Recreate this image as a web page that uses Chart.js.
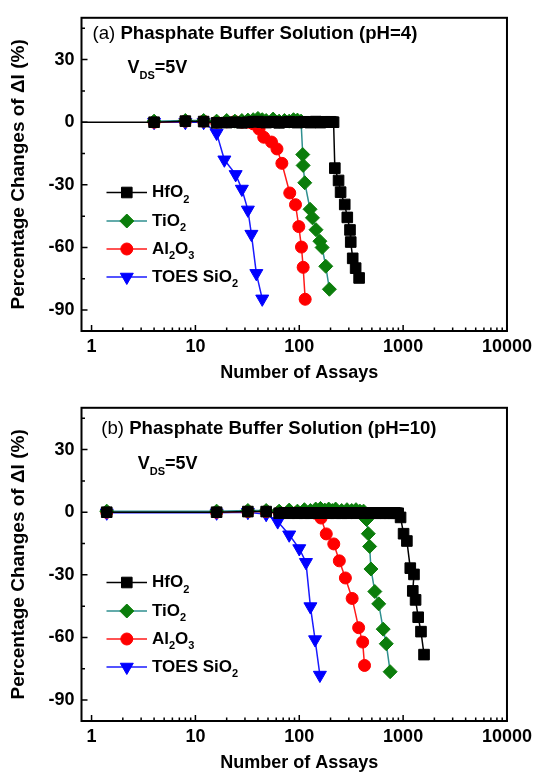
<!DOCTYPE html>
<html>
<head>
<meta charset="utf-8">
<script src="https://cdn.jsdelivr.net/npm/chart.js@4.4.1/dist/chart.umd.min.js"></script>
<style>
  html, body { margin: 0; padding: 0; background: #fff; overflow: hidden; }
  .panel { position: absolute; left: 0; width: 537px; height: 390px; }
</style>
</head>
<body>
<div class="panel" style="top:0"><canvas id="chartA" width="537" height="390"></canvas></div>
<div class="panel" style="top:390px"><canvas id="chartB" width="537" height="390"></canvas></div>
<script>
// ---- data ----
// panel (a), pH=4
const hfA_x = [0.5, 4, 8, 12, 16, 20, 24, 28, 32, 36, 40, 44, 48, 52, 56, 60, 64, 72, 80, 88, 96, 104, 112, 120, 128, 136, 144, 152, 160, 168, 176, 184, 192, 200, 208, 214, 220, 239, 250, 274, 290, 308, 313, 327, 349, 377];
const hfA_y = [0, 0, 0.5, 0.3, -0.3, -0.2, 0, -0.3, 0, 0.2, 0.3, 0, -0.2, 0, 0.2, 0, -0.3, 0, 0.2, 0, -0.2, 0, 0.2, 0, -0.2, 0, 0.3, 0, -0.2, 0, 0.2, 0, 0, 0.2, 0, 0, -22, -27.9, -33.5, -39.4, -45.6, -51.6, -57.4, -65.2, -69.9, -74.6];
const tiA_x = [4, 8, 12, 16, 20, 24, 28, 32, 36, 40, 44, 48, 56, 64, 72, 80, 88, 96, 104, 108, 109, 113, 127, 134, 145, 158, 166, 180, 195];
const tiA_y = [0.5, 0.8, 0.8, 0.5, 0.8, 0.5, 0.8, 1.0, 1.2, 1.8, 1.2, 0.8, 1.5, 0.5, 0.8, 0.5, 1.2, 1.0, 0.5, -15.5, -20.7, -29, -41.7, -45.8, -51.5, -57, -60, -69, -80];
const alA_x = [4, 8, 12, 16, 20, 24, 28, 32, 36, 41, 45.5, 54, 61, 68, 81, 92, 99, 105, 109, 114];
const alA_y = [0, 0.5, 0.5, 0, 0.2, 0.3, 0, 0, -0.8, -3.3, -7.2, -9.5, -12.8, -19.7, -33.9, -39.5, -50, -59.8, -69.5, -84.8];
const siA_x = [4, 8, 12, 16, 19, 24.4, 28, 32, 34.6, 38.6, 44];
const siA_y = [0, 0, 0, -5.2, -18, -25, -32, -42, -53.6, -72.4, -84.6];

// panel (b), pH=10
const hfB_x = [1.4, 16, 32, 48, 64, 72, 80, 88, 96, 104, 112, 120, 128, 144, 160, 176, 192, 208, 224, 240, 256, 272, 288, 320, 352, 384, 416, 448, 480, 512, 544, 576, 608, 640, 672, 704, 736, 768, 800, 832, 864, 896, 945, 1010, 1087, 1172, 1272, 1239, 1318, 1396, 1486, 1590];
const hfB_y = [0, 0, 0.3, 0.3, -0.5, -0.3, -0.5, -0.3, -0.5, -0.3, -0.5, -0.3, -0.5, -0.3, -0.5, -0.3, -0.5, -0.3, -0.5, -0.3, -0.5, -0.3, -0.5, -0.3, -0.5, -0.3, -0.5, -0.3, -0.5, -0.3, -0.5, -0.3, -0.5, -0.3, -0.5, -0.3, -0.5, -0.3, -0.5, -0.3, -0.5, -0.5, -2.5, -10.3, -13.8, -26.8, -29.8, -37.7, -42, -50.3, -57.2, -68.2];
const tiB_x = [1.4, 16, 32, 48, 64, 80, 96, 112, 128, 144, 160, 176, 192, 208, 224, 256, 288, 320, 352, 384, 416, 444, 462, 476, 490, 534, 582, 643, 688, 750];
const tiB_y = [0.5, 0.5, 0.8, 0.8, 0.5, 1.0, 0.5, 1.2, 0.8, 1.5, 1.8, 1.0, 1.5, 0.8, 1.5, 0.8, 1.2, 0.8, 1.2, 0.5, 0.5, -3.5, -10.3, -16.4, -27.2, -38, -43.9, -56, -63, -76.4];
const alB_x = [1.4, 16, 32, 48, 64, 80, 96, 112, 128, 144, 162, 182, 215, 243, 278, 323, 373, 408, 425];
const alB_y = [0, 0, 0.3, 0.3, 0, 0.2, 0, 0.2, 0, -0.5, -2.8, -10.4, -15.2, -23.3, -31.5, -41.3, -55.3, -62.2, -73.4];
const siB_x = [1.4, 16, 32, 48, 62, 80, 100, 116, 128, 142, 158];
const siB_y = [-0.3, -0.3, 0, -1, -4.5, -10.8, -17.4, -24, -45.2, -61, -78];

const seriesNames = ['HfO2', 'TiO2', 'Al2O3', 'TOES SiO2'];
const xTickValues = [1, 10, 100, 1000, 10000];
const yTickValues = [-90, -60, -30, 0, 30];
const yMinorValues = [-75, -45, -15, 15, 45];

// ---- styling ----
const FONT = '"Liberation Sans", Arial, Helvetica, sans-serif';
Chart.defaults.font.family = FONT;
Chart.defaults.color = '#000';

const lineColors = ['#000000', '#2f8f8f', '#ff1a1a', '#1a1aff'];
const markColors = ['#000000', '#0b7d0b', '#ff0000', '#0000ff'];
const markStyles = ['rect', 'rectRot', 'circle', 'triangle'];
const markRadius = [7.5, 7, 6, 7.5];
const markRotation = [0, 0, 0, 180];
const legendParts = [
  [['HfO'], ['2', true]],
  [['TiO'], ['2', true]],
  [['Al'], ['2', true], ['O'], ['3', true]],
  [['TOES SiO'], ['2', true]]
];

function pts(xs, ys) {
  return xs.map((x, i) => ({ x: x, y: ys[i] }));
}

function makeDatasets(list) {
  return list.map((d, i) => ({
    label: seriesNames[i],
    data: pts(d[0], d[1]),
    borderColor: lineColors[i],
    borderWidth: 1.5,
    backgroundColor: markColors[i],
    pointStyle: markStyles[i],
    pointRadius: markRadius[i],
    pointRotation: markRotation[i],
    pointBackgroundColor: markColors[i],
    pointBorderColor: markColors[i],
    pointBorderWidth: 1,
    pointHoverRadius: markRadius[i],
    tension: 0
  }));
}

function drawMarker(ctx, style, r, x, y) {
  ctx.beginPath();
  if (style === 'rect') {
    const s = r * Math.SQRT1_2;
    ctx.rect(x - s, y - s, 2 * s, 2 * s);
  } else if (style === 'rectRot') {
    ctx.moveTo(x - r, y); ctx.lineTo(x, y - r); ctx.lineTo(x + r, y); ctx.lineTo(x, y + r);
    ctx.closePath();
  } else if (style === 'circle') {
    ctx.arc(x, y, r, 0, Math.PI * 2);
  } else {
    ctx.moveTo(x, y + r);
    ctx.lineTo(x - r * 0.866, y - r / 2);
    ctx.lineTo(x + r * 0.866, y - r / 2);
    ctx.closePath();
  }
  ctx.fill();
  ctx.stroke();
}

function drawRich(ctx, x, y, parts, size, subSize, subDrop) {
  parts.forEach(p => {
    const sub = p[1];
    ctx.font = 'bold ' + (sub ? subSize : size) + 'px ' + FONT;
    ctx.fillText(p[0], x, sub ? y + subDrop : y);
    x += ctx.measureText(p[0]).width;
  });
}

// inner tick marks + closed frame
const framePlugin = {
  id: 'frame',
  afterDatasetsDraw(chart) {
    const { ctx, chartArea: a, scales } = chart;
    const x = scales.x, y = scales.y;
    ctx.save();
    ctx.strokeStyle = '#000';
    ctx.lineWidth = 1.5;
    ctx.beginPath();
    yTickValues.forEach(v => {
      const py = y.getPixelForValue(v);
      ctx.moveTo(a.left, py); ctx.lineTo(a.left + 6, py);
    });
    yMinorValues.forEach(v => {
      const py = y.getPixelForValue(v);
      ctx.moveTo(a.left, py); ctx.lineTo(a.left + 3.5, py);
    });
    xTickValues.forEach(v => {
      const px = x.getPixelForValue(v);
      ctx.moveTo(px, a.bottom); ctx.lineTo(px, a.bottom - 6);
    });
    for (let d = 1; d < 10000; d *= 10) {
      for (let m = 2; m <= 9; m++) {
        const px = x.getPixelForValue(d * m);
        ctx.moveTo(px, a.bottom); ctx.lineTo(px, a.bottom - 3.5);
      }
    }
    ctx.stroke();
    ctx.lineWidth = 2;
    ctx.strokeRect(a.left, a.top, a.right - a.left, a.bottom - a.top);
    ctx.restore();
  }
};

// panel title, V_DS note and legend
const notesPlugin = {
  id: 'notes',
  afterDraw(chart, args, opts) {
    const ctx = chart.ctx;
    ctx.save();
    ctx.fillStyle = '#000';
    ctx.textBaseline = 'middle';
    ctx.textAlign = 'left';
    ctx.font = '18.6px ' + FONT;
    ctx.fillText(opts.tag, opts.titleX, opts.titleY);
    const w = ctx.measureText(opts.tag + ' ').width;
    ctx.font = 'bold 18.6px ' + FONT;
    ctx.fillText(opts.title, opts.titleX + w, opts.titleY);
    drawRich(ctx, opts.vdsX, opts.vdsY, [['V'], ['DS', true], ['=5V']], 18, 11, 8);

    const rows = [192.5, 221, 249, 277];
    rows.forEach((ry, i) => {
      ctx.strokeStyle = lineColors[i];
      ctx.lineWidth = 1.5;
      ctx.beginPath();
      ctx.moveTo(106.5, ry); ctx.lineTo(147, ry);
      ctx.stroke();
      ctx.fillStyle = markColors[i];
      ctx.strokeStyle = markColors[i];
      ctx.lineWidth = 1;
      drawMarker(ctx, markStyles[i], markRadius[i], 126.8, ry);
      ctx.fillStyle = '#000';
      drawRich(ctx, 152, ry, legendParts[i], 17, 11, 7);
    });
    ctx.restore();
  }
};

function makeChart(id, list, notes) {
  return new Chart(document.getElementById(id), {
    type: 'line',
    data: { datasets: makeDatasets(list) },
    options: {
      responsive: false,
      animation: false,
      events: [],
      layout: { padding: { top: 12, right: 27, left: 0, bottom: 0 } },
      plugins: {
        legend: { display: false },
        tooltip: { enabled: false },
        notes: notes
      },
      scales: {
        x: {
          type: 'logarithmic',
          min: 0.8,
          max: 10000,
          grid: { display: false, drawTicks: false },
          border: { display: false },
          afterBuildTicks: s => { s.ticks = xTickValues.map(v => ({ value: v })); },
          afterFit: s => { s.height = 59; },
          ticks: {
            autoSkip: false, maxRotation: 0, padding: 5,
            font: { size: 18, weight: 'bold' },
            callback: v => String(v)
          },
          title: {
            display: true, text: '  Number of Assays',
            font: { size: 18, weight: 'bold' },
            padding: { top: 0, bottom: 6 }
          }
        },
        y: {
          min: -100,
          max: 50,
          grid: { display: false, drawTicks: false },
          border: { display: false },
          afterBuildTicks: s => { s.ticks = yTickValues.map(v => ({ value: v })); },
          afterFit: s => { s.width = 81.5; },
          ticks: {
            padding: 7,
            font: { size: 18, weight: 'bold' },
            callback: v => String(v)
          },
          title: {
            display: true, text: 'Percentage Changes of \u0394I (%)',
            font: { size: 19, weight: 'bold' },
            padding: { top: 7, bottom: 0 }
          }
        }
      }
    },
    plugins: [framePlugin, notesPlugin]
  });
}

makeChart('chartA',
  [[hfA_x, hfA_y], [tiA_x, tiA_y], [alA_x, alA_y], [siA_x, siA_y]],
  { tag: '(a)', title: 'Phasphate Buffer Solution (pH=4)', titleX: 92.5, titleY: 34.3, vdsX: 127.5, vdsY: 68.3 });

makeChart('chartB',
  [[hfB_x, hfB_y], [tiB_x, tiB_y], [alB_x, alB_y], [siB_x, siB_y]],
  { tag: '(b)', title: 'Phasphate Buffer Solution (pH=10)', titleX: 101.3, titleY: 39.3, vdsX: 137.7, vdsY: 74 });
</script>
</body>
</html>
